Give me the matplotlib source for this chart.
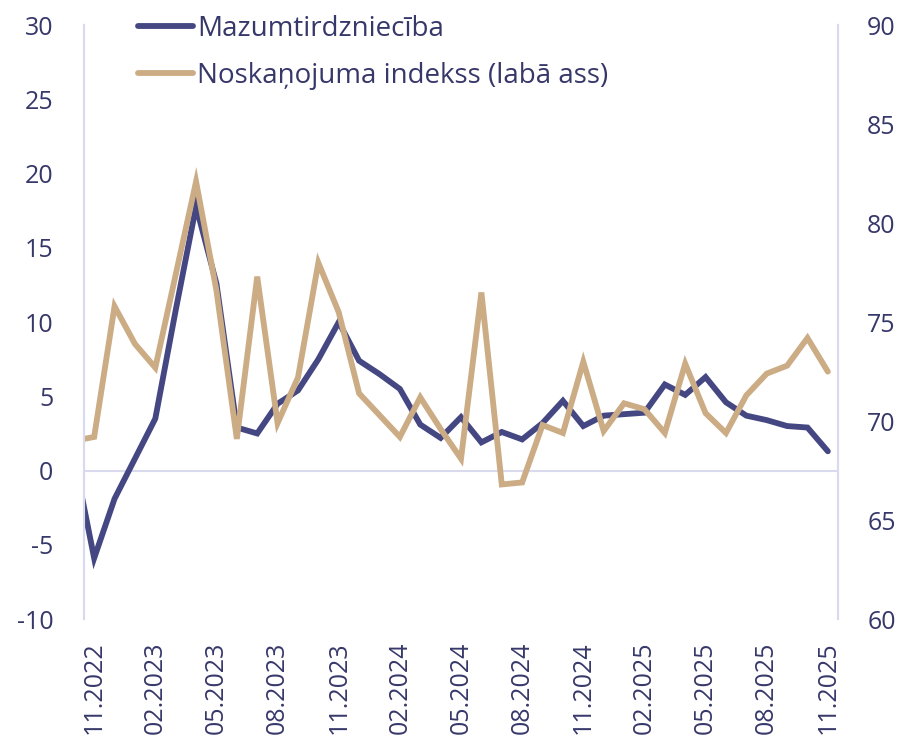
import numpy as np
import matplotlib.pyplot as plt

months = ['10.2022', '11.2022', '12.2022',
          '01.2023', '02.2023', '03.2023', '04.2023', '05.2023', '06.2023',
          '07.2023', '08.2023', '09.2023', '10.2023', '11.2023', '12.2023',
          '01.2024', '02.2024', '03.2024', '04.2024', '05.2024', '06.2024',
          '07.2024', '08.2024', '09.2024', '10.2024', '11.2024', '12.2024',
          '01.2025', '02.2025', '03.2025', '04.2025', '05.2025', '06.2025',
          '07.2025', '08.2025', '09.2025', '10.2025', '11.2025']

# retail trade, annual change (left axis)
retail = [1.0, -5.9, -1.9, 0.8, 3.5, 10.8, 17.8, 12.6, 2.9, 2.5, 4.5, 5.4, 7.5,
          10.0, 7.4, 6.5, 5.5, 3.1, 2.2, 3.6, 1.9, 2.6, 2.1, 3.2, 4.7, 3.0,
          3.7, 3.8, 3.9, 5.8, 5.1, 6.3, 4.6, 3.7, 3.4, 3.0, 2.9, 1.3]

# confidence index (right axis)
confidence = [69.0, 69.2, 75.8, 73.9, 72.7, 77.4, 82.1, 76.6, 69.1, 77.3, 69.9,
              72.2, 78.0, 75.5, 71.4, 70.3, 69.2, 71.2, 69.6, 68.1, 76.5, 66.8,
              66.9, 69.8, 69.4, 73.0, 69.5, 70.9, 70.6, 69.4, 72.9, 70.4, 69.4,
              71.3, 72.4, 72.8, 74.2, 72.5]

navy = '#444782'
tan = '#CBAC85'
txt = '#37386A'
grid = '#D9DAEE'

plt.rcParams['font.family'] = ['Open Sans', 'DejaVu Sans']
plt.rcParams['axes.unicode_minus'] = False
fig = plt.figure(figsize=(9.02, 7.44), dpi=100)
ax = fig.add_axes([0.0931, 0.168, 0.836, 0.798])
ax2 = ax.twinx()

x = np.arange(len(months))
l1, = ax.plot(x, retail, color=navy, lw=4.2, solid_capstyle='round',
              solid_joinstyle='miter', label='Mazumtirdzniecība')
l2, = ax2.plot(x, confidence, color=tan, lw=4.2, solid_capstyle='round',
               solid_joinstyle='miter', label='Noskaņojuma indekss (labā ass)')

ax.set_xlim(0.5, len(months) - 0.5)
ax.set_ylim(-10, 30)
ax2.set_ylim(60, 90)
ax.set_yticks(np.arange(-10, 31, 5))
ax2.set_yticks(np.arange(60, 91, 5))
ax.set_xticks(x[1::3], [months[i] for i in x[1::3]], rotation=90)
ax.axhline(0, color=grid, lw=1.5, zorder=1)

for a in (ax, ax2):
    for s in ('top', 'bottom'):
        a.spines[s].set_visible(False)
    a.spines['left'].set_color(grid)
    a.spines['right'].set_color(grid)
    a.spines['left'].set_linewidth(1.5)
    a.spines['right'].set_linewidth(1.5)
    a.tick_params(length=0, labelsize=18, colors=txt)
ax.tick_params(axis='y', pad=22)
ax2.tick_params(axis='y', pad=21)
ax.tick_params(axis='x', pad=16)

ax2.legend(handles=[l1, l2], loc='upper left', bbox_to_anchor=(0.038, 1.06),
           frameon=False, fontsize=20, handlelength=2.0, handletextpad=0.15,
           labelspacing=0.68, labelcolor=txt)

fig.savefig('out.png', dpi=100)
